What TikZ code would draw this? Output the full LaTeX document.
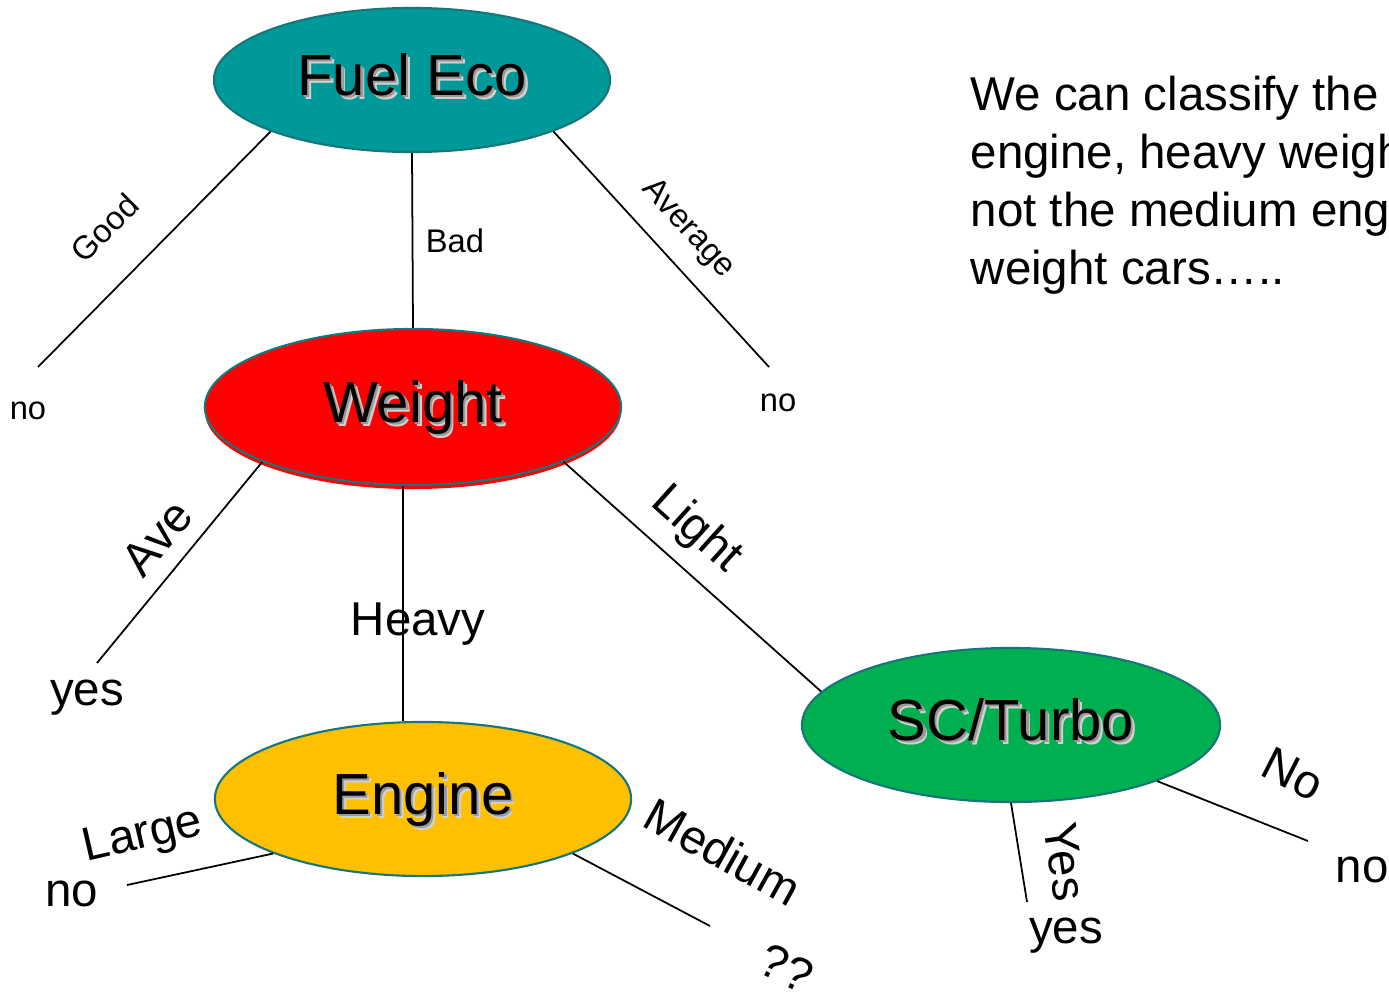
\documentclass[tikz,border=0pt]{standalone}
\usepackage{fontspec}
\setmainfont{Liberation Sans}
\usetikzlibrary{shapes.geometric}
\definecolor{fueltl}{HTML}{009999}
\definecolor{rimtl}{HTML}{17767A}
\definecolor{wgtred}{HTML}{FF0000}
\definecolor{engyl}{HTML}{FFC000}
\definecolor{scgrn}{HTML}{00B050}
\newcommand{\shlayer}[3]{\makebox[0pt][l]{\hspace{#1}\raisebox{-#1}{\textcolor{black!#2}{#3}}}}
\newcommand{\shtext}[1]{\shlayer{1.1pt}{18}{#1}\shlayer{0.6pt}{40}{#1}#1}

\begin{document}
\begin{tikzpicture}[x=0.01cm, y=-0.01cm,
            attr/.style={ellipse, draw=rimtl, line width=0.6pt, inner sep=0pt, text height=12.4pt, text depth=3.6pt, font=\fontsize{16.5}{19}\selectfont},
            branch/.style={line width=0.5pt},
            lbl/.style={inner sep=0pt, font=\fontsize{13.5}{16}\selectfont},
            smalllbl/.style={inner sep=0pt, font=\fontsize{9.3}{11}\selectfont}
            ]
            \clip (0,0) rectangle (1389,994);

            % tree nodes
            \node[attr, fill=fueltl, minimum width=3.96cm, minimum height=1.44cm] (fuel) at (412,80) {\shtext{Fuel Eco}};
            \node[ellipse, fill=wgtred, minimum width=4.16cm, minimum height=1.56cm] (wgtsh) at (413,411) {};
            \node[attr, fill=wgtred, minimum width=4.16cm, minimum height=1.56cm] (weight) at (413,407) {\shtext{Weight}};
            \node[attr, fill=engyl, minimum width=4.16cm, minimum height=1.54cm] (engine) at (423,799) {\shtext{Engine}};
            \node[attr, fill=scgrn, minimum width=4.18cm, minimum height=1.54cm] (turbo) at (1011,725) {\shtext{SC/Turbo}};

            % free ends
            \coordinate (goodE) at (38,367);
            \coordinate (avgE) at (769,367);
            \coordinate (aveE) at (97,663);
            \coordinate (largeE) at (127,885);
            \coordinate (medE) at (710,926);
            \coordinate (yesE) at (1027,902);
            \coordinate (noE) at (1308,841);

            \draw[branch] (fuel.200) -- (goodE);
            \draw[branch] (fuel.south) -- (weight.north);
            \draw[branch] (fuel.340.5) -- (avgE);
            \draw[branch] (weight.200.3) -- (aveE);
            \draw[branch] (weight.263) -- (weight.263 |- engine.north);
            \draw[branch] (weight.340) -- (turbo.170.2);
            \draw[branch] (engine.200.5) -- (largeE);
            \draw[branch] (engine.340) -- (medE);
            \draw[branch] (turbo.south) -- (yesE);
            \draw[branch] (turbo.339.5) -- (noE);

            % branch labels
            \node[smalllbl, rotate=45] (good) at (105,228) {Good};
            \node[smalllbl] (bad) at (455,241) {Bad};
            \node[smalllbl, rotate=-47.5] (avg) at (688,229) {Average};
            \node[smalllbl] (no1) at (28,411) {no};
            \node[smalllbl] (no2) at (778,403) {no};
            \node[lbl, rotate=50] (ave) at (157,538) {Ave};
            \node[lbl] (yes1) at (87,698) {yes};
            \node[lbl] (heavy) at (418,624) {Heavy};
            \node[lbl, rotate=-42] (light) at (696,530) {Light};
            \node[lbl, rotate=13] (large) at (143,837) {Large};
            \node[lbl] (no3) at (72,894) {no};
            \node[lbl, rotate=-29] (medium) at (723,852) {Medium};
            \node[lbl, rotate=-25] (qq) at (786,968) {??};
            \node[lbl, rotate=-82] (yes) at (1065,862) {Yes};
            \node[lbl] (yes2) at (1066,936) {yes};
            \node[lbl, rotate=-27] (no) at (1293,774) {No};
            \node[lbl] (no4) at (1362,870) {no};

            % note
            \node[inner sep=0pt, anchor=north west, align=left, font=\fontsize{13.5}{16.5}\selectfont] (note) at (970,75)
                {We can classify the\\engine, heavy weight\\not the medium engine\\weight cars…..};
\end{tikzpicture}
\end{document}
